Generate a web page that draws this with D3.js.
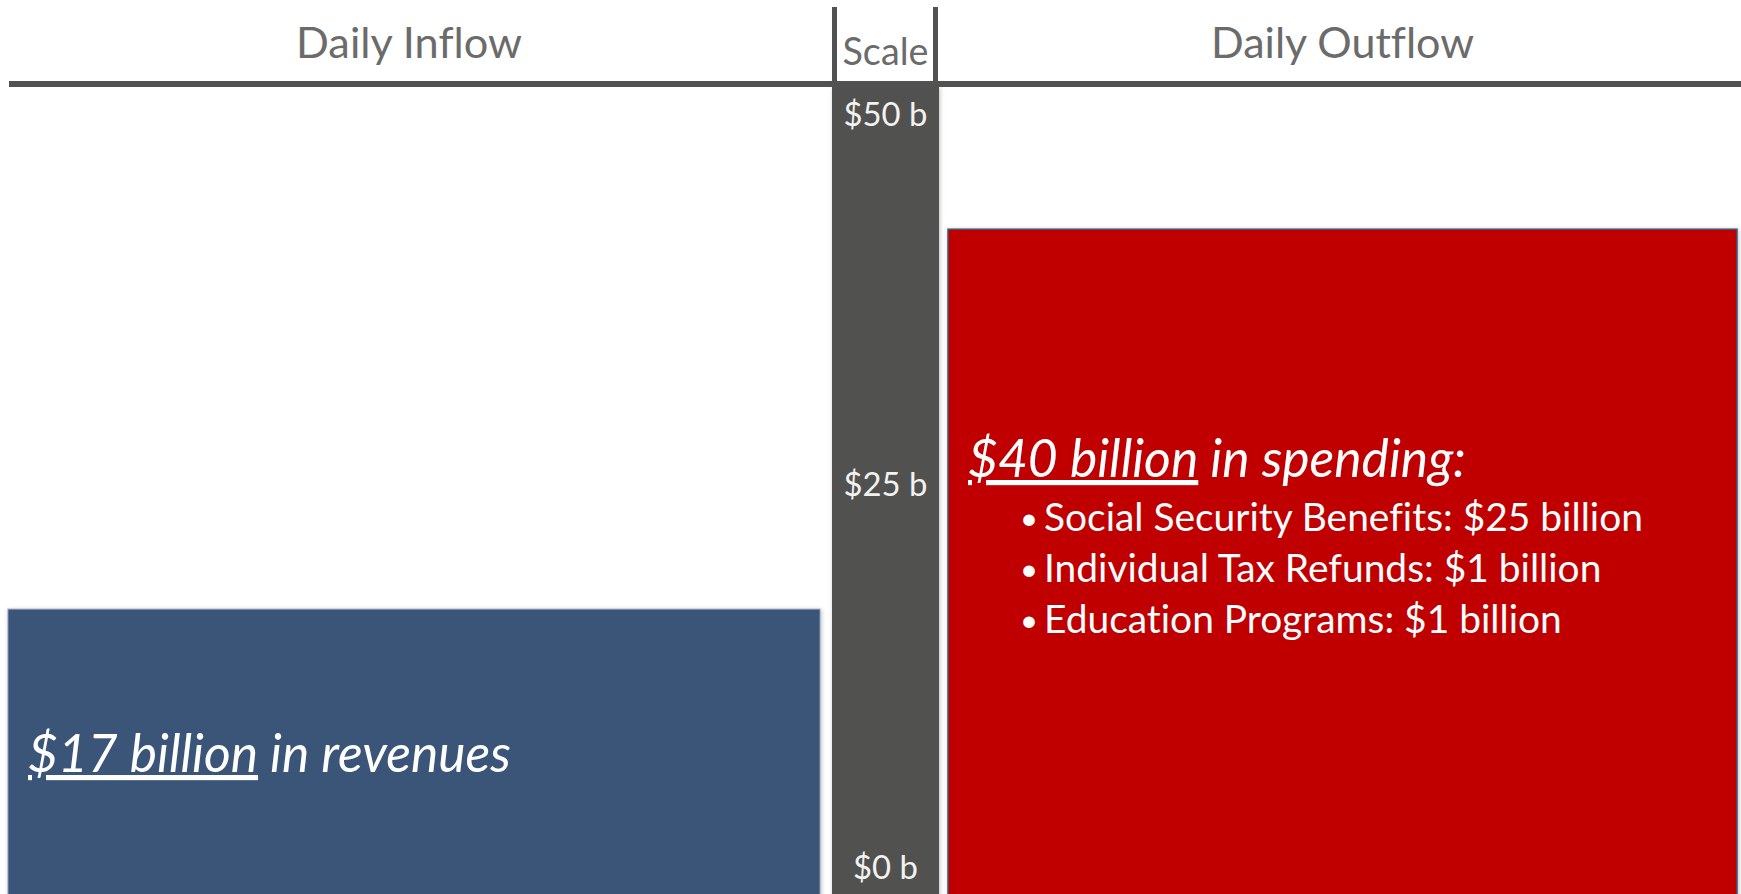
<!DOCTYPE html>
<html>
<head>
<meta charset="utf-8">
<script src="https://cdn.jsdelivr.net/npm/d3@7/dist/d3.min.js"></script>
<style>
  html, body { margin: 0; padding: 0; background: #fff; overflow: hidden; }
  svg { display: block; font-family: Lato, "Open Sans", sans-serif; font-variant-ligatures: none; }
</style>
</head>
<body>
<div id="chart"></div>
<script>
// data
var categories = ["Daily Inflow", "Daily Outflow"];
var amounts = [17, 40];
var barColors = ["#3B5479", "#C00000"];
var headlineAmounts = ["$17 billion", "$40 billion"];
var headlineRest = [" in revenues", " in spending:"];
var spendingItems = ["Social Security Benefits: $25 billion", "Individual Tax Refunds: $1 billion", "Education Programs: $1 billion"];
var scaleTicks = [0, 25, 50];
var scaleLabels = ["$0 b", "$25 b", "$50 b"];

var width = 1741, height = 894;

// layout of the two panels and the scale column
var panels = [
    { x0: 8, x1: 820, titleW: 226, headY: 772, headW: 483 },
    { x0: 948, x1: 1737, titleW: 263, headY: 477, headW: 498 }
];
var col = { x0: 832, x1: 939 };

var svg = d3.select("#chart").append("svg")
    .attr("width", width)
    .attr("height", height);

var defs = svg.append("defs");
var shadow = defs.append("filter").attr("id", "shadow")
    .attr("x", "-5%").attr("y", "-5%").attr("width", "110%").attr("height", "110%");
shadow.append("feDropShadow")
    .attr("dx", 1).attr("dy", 1).attr("stdDeviation", 2)
    .attr("flood-color", "#000").attr("flood-opacity", 0.25);

var yScale = d3.scaleLinear().domain([0, 50]).range([890, 64]);
// where the scale labels sit inside the column
var labelY = d3.scaleLinear().domain([0, 25, 50]).range([879, 496, 126]);

// fit a text element's font size so its width matches w
function fitWidth(sel, w) {
    var cur = sel.node().getComputedTextLength();
    var fs = parseFloat(sel.attr("font-size"));
    sel.attr("font-size", fs * w / cur);
    return fs * w / cur;
}

// scale column
svg.append("rect")
    .attr("x", col.x0)
    .attr("y", 87)
    .attr("width", col.x1 - col.x0)
    .attr("height", height - 87 + 10)
    .attr("fill", "#51514F")
    .attr("filter", "url(#shadow)");

// bars
svg.selectAll(".bar").data(amounts).enter().append("rect")
    .attr("class", "bar")
    .attr("x", function(d, i) { return panels[i].x0; })
    .attr("y", function(d) { return yScale(d); })
    .attr("width", function(d, i) { return panels[i].x1 - panels[i].x0; })
    .attr("height", function(d) { return height + 10 - yScale(d); })
    .attr("fill", function(d, i) { return barColors[i]; })
    .attr("stroke", function(d, i) { return i == 1 ? "#41577A" : "#8A9AB5"; })
    .attr("stroke-width", function(d, i) { return i == 1 ? 1.5 : 1; })
    .attr("filter", "url(#shadow)");

// header rules
svg.append("line")
    .attr("x1", 9).attr("x2", width)
    .attr("y1", 84).attr("y2", 84)
    .attr("stroke", "#525252").attr("stroke-width", 6);
[col.x0 + 2.5, col.x1 - 3.5].forEach(function(x) {
    svg.append("line")
        .attr("x1", x).attr("x2", x)
        .attr("y1", 7).attr("y2", 84)
        .attr("stroke", "#525252").attr("stroke-width", 5);
});

// titles
categories.forEach(function(c, i) {
    var t = svg.append("text")
        .attr("x", (panels[i].x0 + panels[i].x1) / 2 - (i == 0 ? 5 : 0))
        .attr("y", 58)
        .attr("text-anchor", "middle")
        .attr("font-size", 40)
        .attr("fill", "#6B6B6B")
        .text(c);
    fitWidth(t, panels[i].titleW);
});
var scaleTitle = svg.append("text")
    .attr("x", (col.x0 + col.x1) / 2)
    .attr("y", 65)
    .attr("text-anchor", "middle")
    .attr("font-size", 38)
    .attr("fill", "#6B6B6B")
    .text("Scale");
fitWidth(scaleTitle, 86);

// scale labels
var probe = svg.append("text").attr("font-size", 33).text(scaleLabels[2]);
var labelSize = fitWidth(probe, 84);
probe.remove();
svg.selectAll(".scale-label").data(scaleTicks).enter().append("text")
    .attr("class", "scale-label")
    .attr("x", (col.x0 + col.x1) / 2)
    .attr("y", function(d) { return labelY(d); })
    .attr("text-anchor", "middle")
    .attr("font-size", labelSize)
    .attr("fill", "#F2F2F2")
    .text(function(d, i) { return scaleLabels[i]; });

// headlines in the bars
amounts.forEach(function(v, i) {
    var t = svg.append("text")
        .attr("x", panels[i].x0 + 20)
        .attr("y", panels[i].headY)
        .attr("font-size", 44)
        .attr("font-style", "italic")
        .attr("fill", "#FFFFFF");
    t.append("tspan")
        .style("text-decoration", "underline")
        .text(headlineAmounts[i]);
    t.append("tspan")
        .style("white-space", "pre")
        .attr("xml:space", "preserve")
        .text(headlineRest[i]);
    fitWidth(t, panels[i].headW);
});

// spending breakdown
var probe2 = svg.append("text").attr("font-size", 34).text(spendingItems[0]);
var itemSize = fitWidth(probe2, 599);
probe2.remove();
var items = svg.selectAll(".item").data(spendingItems).enter().append("g")
    .attr("class", "item")
    .attr("transform", function(d, i) { return "translate(" + (panels[1].x0 + 72) + "," + (531 + i * 51) + ")"; });
items.append("text")
    .attr("x", 0)
    .attr("y", -2)
    .attr("font-size", itemSize * 0.8)
    .attr("fill", "#FFFFFF")
    .text("\u2022");
items.append("text")
    .attr("x", 24)
    .attr("font-size", itemSize)
    .attr("fill", "#FFFFFF")
    .text(function(d) { return d; });
</script>
</body>
</html>
